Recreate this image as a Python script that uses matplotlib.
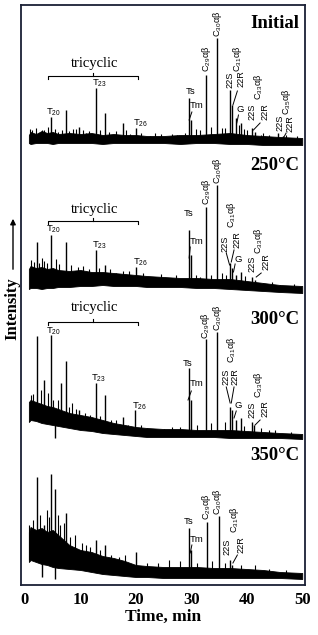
import numpy as np
import matplotlib.pyplot as plt
from matplotlib.patches import FancyArrowPatch

plt.rcParams['font.family'] = ['Liberation Sans', 'DejaVu Sans']
plt.rcParams['mathtext.fontset'] = 'custom'
plt.rcParams['mathtext.rm'] = 'Liberation Sans'
plt.rcParams['mathtext.it'] = 'Liberation Sans:italic'

# noise envelope of the baseline (time grid, min)
t_env = [0.7, 1, 2, 3, 4, 5, 6, 8, 10, 12, 14, 16, 18, 20, 22, 25, 28, 31, 34, 37, 40, 43, 46, 50]

# --- Initial ---
upper_init = [10, 13, 11, 14, 12, 13, 11, 12, 11, 12, 10, 11, 10, 10, 9, 9, 10, 10, 11, 12, 10, 9, 8, 7]
lower_init = [2, 1, 2, 2, 2, 1, 2, 2, 2, 2, 1, 2, 2, 2, 2, 2, 1, 2, 2, 1, 1, 0, 0, 0]
peak_t_init = [4.7, 7.4, 9.8, 12.8, 14.4, 17.6, 20.0, 29.6, 30.0, 32.7, 34.7, 37.0, 37.4, 38.1, 39.0, 41.0, 41.5, 45.7, 46.5]
peak_h_init = [28, 35, 18, 57, 32, 22, 17, 47, 25, 70, 107, 55, 40, 27, 22, 17, 13, 12, 9]
minor_t_init = [1.3, 2.5, 3.5, 6.0, 8.6, 11.0, 15.8, 19.0, 22.5, 25.5, 27.5, 28.8, 31.5, 33.5, 36.0, 38.6, 40.0, 42.5, 44.0, 48.0,
                0.9, 2.0, 3.0, 4.2, 5.5, 6.6, 8.0, 9.2, 10.5, 11.6, 13.5, 15.2, 16.5, 18.3, 21.0, 23.5, 24.5, 26.5,
                30.8, 35.6, 39.5, 43.0, 47.0, 49.0]
minor_h_init = [15, 12, 15, 13, 16, 12, 10, 11, 9, 8, 10, 12, 15, 18, 17, 20, 15, 10, 10, 7,
                16, 17, 15, 18, 16, 15, 14, 16, 15, 14, 15, 13, 14, 15, 12, 12, 11, 11,
                16, 17, 16, 12, 10, 9]

# --- 250 C ---
upper_250 = [24, 27, 25, 26, 24, 25, 23, 22, 23, 21, 21, 20, 19, 18, 17, 16, 15, 15, 14, 14, 12, 10, 8, 7]
lower_250 = [4, 5, 5, 4, 5, 5, 6, 6, 7, 7, 8, 7, 7, 7, 6, 6, 6, 5, 5, 4, 3, 2, 1, 0]
peak_t_250 = [2.1, 4.7, 7.4, 12.8, 14.4, 20.0, 29.6, 29.9, 32.7, 34.7, 37.0, 37.3, 38.0, 39.0, 41.0, 41.4]
peak_h_250 = [51, 58, 51, 43, 28, 26, 63, 38, 86, 108, 30, 25, 18, 21, 16, 13]
minor_t_250 = [1.0, 3.0, 4.0, 5.6, 9.6, 11.5, 16.5, 17.6, 23.0, 26.0, 28.5, 31.5, 33.5, 35.5, 36.3, 43.0, 46.0,
               1.6, 2.6, 3.5, 6.2, 8.3, 10.5, 13.4, 15.4, 18.8, 21.2, 24.5, 27.2, 30.8, 39.6, 44.5, 48.5]
minor_h_250 = [33, 35, 30, 34, 26, 24, 20, 22, 13, 12, 14, 16, 18, 20, 18, 10, 8,
               31, 30, 32, 29, 28, 27, 25, 24, 22, 20, 19, 18, 18, 17, 11, 9]

# --- 300 C ---
upper_300 = [38, 40, 38, 36, 34, 33, 31, 27, 25, 23, 20, 17, 15, 13, 12, 11, 11, 10, 10, 10, 9, 8, 7, 6]
lower_300 = [18, 20, 19, 17, 16, 15, 14, 12, 10, 9, 7, 6, 5, 4, 3, 3, 3, 3, 3, 2, 2, 2, 2, 1]
peak_t_300 = [2.1, 3.4, 4.7, 6.5, 7.4, 9.7, 12.8, 14.4, 17.6, 19.9, 29.5, 29.9, 32.6, 34.7, 37.0, 37.3, 38.0, 38.9, 40.9, 41.3]
peak_h_300 = [104, 60, 105, 57, 79, 30, 57, 45, 23, 30, 72, 40, 101, 108, 33, 30, 20, 22, 18, 15]
minor_t_300 = [1.0, 2.8, 4.1, 6.0, 8.5, 10.8, 11.8, 15.5, 18.5, 22.0, 25.0, 28.0, 31.0, 33.5, 36.0, 42.5, 45.0, 48.0,
               1.5, 5.0, 8.0, 9.2, 13.5, 16.5, 21.0, 26.5, 39.5, 44.0]
minor_h_300 = [45, 50, 47, 40, 37, 27, 25, 20, 15, 12, 11, 13, 15, 17, 18, 12, 10, 8,
               46, 40, 33, 31, 24, 20, 15, 13, 14, 10]
dip_t_300 = [5.4]
dip_h_300 = [2]

# --- 350 C ---
upper_350 = [48, 53, 50, 52, 48, 50, 45, 35, 30, 28, 24, 22, 19, 15, 14, 13, 13, 13, 12, 12, 11, 10, 8, 7]
lower_350 = [18, 20, 18, 16, 15, 13, 12, 11, 10, 8, 6, 5, 4, 3, 3, 2, 2, 2, 2, 2, 2, 2, 2, 1]
peak_t_350 = [2.1, 3.4, 4.7, 5.4, 7.4, 12.8, 14.4, 20.0, 29.6, 29.9, 32.8, 34.9, 37.0, 37.4]
peak_h_350 = [103, 55, 106, 91, 67, 40, 35, 28, 52, 30, 58, 64, 20, 15]
minor_t_350 = [0.8, 1.4, 2.7, 3.9, 4.3, 5.9, 6.4, 7.0, 8.2, 9.0, 10.2, 11.0, 11.8, 13.5, 15.5, 17.0, 18.0,
               22.0, 24.0, 26.0, 28.0, 31.0, 33.8, 36.0, 39.0, 41.5, 44.0, 47.0]
minor_h_350 = [55, 60, 65, 70, 63, 65, 55, 57, 43, 45, 37, 35, 33, 30, 25, 23, 25,
               17, 17, 20, 19, 17, 19, 17, 15, 15, 11, 10]
dip_t_350 = [3.0, 5.5]
dip_h_350 = [3, 1]

names = ['Initial', '250\u00b0C', '300\u00b0C', '350\u00b0C']
offsets = [440, 292, 145, 5]

traces = [
    dict(up=upper_init, lo=lower_init, pt=peak_t_init, ph=peak_h_init, mt=minor_t_init, mh=minor_h_init, dt=[], dh=[]),
    dict(up=upper_250, lo=lower_250, pt=peak_t_250, ph=peak_h_250, mt=minor_t_250, mh=minor_h_250, dt=[], dh=[]),
    dict(up=upper_300, lo=lower_300, pt=peak_t_300, ph=peak_h_300, mt=minor_t_300, mh=minor_h_300, dt=dip_t_300, dh=dip_h_300),
    dict(up=upper_350, lo=lower_350, pt=peak_t_350, ph=peak_h_350, mt=minor_t_350, mh=minor_h_350, dt=dip_t_350, dh=dip_h_350),
]

C29, C30, C31 = 'C$_{29}$\u03b1\u03b2', 'C$_{30}$\u03b1\u03b2', 'C$_{31}$\u03b1\u03b2'
C33, C35 = 'C$_{33}$\u03b1\u03b2', 'C$_{35}$\u03b1\u03b2'

# peak labels: text, time, height, horizontal(h)/vertical(v)
labels = [
    [('T$_{20}$', 5.2, 33, 'h'), ('T$_{23}$', 13.4, 62, 'h'), ('T$_{26}$', 20.8, 22, 'h'),
     ('Ts', 29.8, 53, 'h'), ('Tm', 30.9, 39, 'h'), (C29, 32.7, 73, 'v'), (C30, 34.7, 108, 'v'),
     ('22S', 37.0, 57, 'v'), (C31, 38.3, 73, 'v'), ('22R', 39.0, 58, 'v'), ('G', 38.8, 36, 'h'),
     ('22S', 41.0, 25, 'v'), (C33, 42.2, 45, 'v'), ('22R', 43.3, 25, 'v'),
     ('22S', 46.0, 14, 'v'), (C35, 47.1, 30, 'v'), ('22R', 47.8, 13, 'v')],
    [('T$_{20}$', 5.2, 64, 'h'), ('T$_{23}$', 13.4, 48, 'h'), ('T$_{26}$', 20.8, 31, 'h'),
     ('Ts', 29.6, 79, 'h'), ('Tm', 31.0, 52, 'h'), (C29, 32.7, 88, 'v'), (C30, 34.7, 109, 'v'),
     ('22S', 36.1, 41, 'v'), (C31, 37.2, 65, 'v'), ('22R', 38.3, 45, 'v'), ('G', 38.5, 34, 'h'),
     ('22S', 41.0, 21, 'v'), (C33, 42.2, 39, 'v'), ('22R', 43.4, 23, 'v')],
    [('T$_{20}$', 5.2, 109, 'h'), ('T$_{23}$', 13.2, 62, 'h'), ('T$_{26}$', 20.6, 34, 'h'),
     ('Ts', 29.4, 77, 'h'), ('Tm', 31.0, 56, 'h'), (C29, 32.6, 101, 'v'), (C30, 34.7, 109, 'v'),
     ('22S', 36.3, 55, 'v'), (C31, 37.2, 77, 'v'), ('22R', 37.9, 55, 'v'), ('G', 38.5, 35, 'h'),
     ('22S', 41.0, 22, 'v'), (C33, 42.2, 42, 'v'), ('22R', 43.3, 23, 'v')],
    [('Ts', 29.6, 59, 'h'), ('Tm', 31.0, 41, 'h'), (C29, 32.7, 60, 'v'), (C30, 34.8, 65, 'v'),
     ('22S', 36.5, 25, 'v'), (C31, 37.7, 47, 'v'), ('22R', 39.0, 27, 'v')],
]

leaders = [
    [(30.1, 33, 29.6, 25), (38.3, 54, 37.5, 40), (38.5, 30, 38.2, 22), (42.4, 22, 41.2, 15), (47.1, 12, 46.6, 7)],
    [(29.8, 46, 29.6, 35), (36.3, 40, 36.9, 28), (37.7, 43, 37.2, 31), (37.9, 29, 37.6, 21), (42.6, 20, 41.7, 16)],
    [(30.0, 49, 29.4, 40), (36.3, 53, 37.0, 37), (37.7, 53, 37.2, 37), (38.1, 29, 37.7, 22), (42.4, 20, 41.5, 15)],
    [(30.1, 35, 29.8, 27), (38.3, 25, 37.5, 17)],
]

tricyclic_y = [82, 83, 132]
bracket_y = [69, 72, 118]
name_y = [122, 127, 121, 125]

fig = plt.figure(figsize=(3.18, 6.35), dpi=100)
ax = fig.add_axes([21 / 318, 50 / 635, 284 / 318, 580 / 635])

for i, tr in enumerate(traces):
    off = offsets[i]
    ax.fill_between(t_env, [off + v for v in tr['lo']], [off + v for v in tr['up']],
                    color='black', lw=0.6)
    # stems start inside the noise band
    mbase = off + np.interp(tr['mt'], t_env, tr['lo']) + 1
    ax.vlines(tr['mt'], mbase, [off + v for v in tr['mh']], color='black', lw=0.8)
    pbase = off + np.interp(tr['pt'], t_env, tr['lo']) + 1
    ax.vlines(tr['pt'], pbase, [off + v for v in tr['ph']], color='black', lw=1.0)
    if tr['dt']:
        dtop = off + np.interp(tr['dt'], t_env, tr['lo']) + 2
        ax.vlines(tr['dt'], [off + v for v in tr['dh']], dtop, color='black', lw=1.0)

    for s, t, y, kind in labels[i]:
        if kind == 'h':
            ax.text(t, off + y, s, ha='center', va='center', fontsize=6.8)
        else:
            ax.text(t, off + y, s, ha='center', va='bottom', rotation=90, fontsize=6.6)
    for x0, y0, x1, y1 in leaders[i]:
        ax.plot([x0, x1], [off + y0, off + y1], color='black', lw=0.7)

    ax.text(49.4, off + name_y[i], names[i], ha='right', va='center', fontsize=13.5,
            fontweight='bold', family='Liberation Serif')

    if i < 3:
        by = off + bracket_y[i]
        ax.plot([4.15, 4.15, 20.4, 20.4], [by - 3, by, by, by - 3], color='black', lw=0.8)
        ax.plot([12.3, 12.3], [by, by + 3], color='black', lw=0.8)
        ax.text(12.6, off + tricyclic_y[i], 'tricyclic', ha='center', va='center',
                fontsize=10.5, family='Liberation Serif')

ax.set_xlim(-0.72, 50.5)
ax.set_ylim(0, 580)
ax.set_yticks([])
ax.set_xticks([0, 10, 20, 30, 40, 50])
ax.tick_params(axis='x', length=0, pad=5, labelsize=12)
for lab in ax.get_xticklabels():
    lab.set_fontfamily('Liberation Serif')
    lab.set_fontweight('bold')
ax.set_xlabel('Time, min', fontsize=12.5, fontweight='bold', family='Liberation Serif', labelpad=1)
for sp in ax.spines.values():
    sp.set_color('#1a2035')
    sp.set_linewidth(1.3)

fig.text(12 / 318, 1 - 309 / 635, 'Intensity', rotation=90, ha='center', va='center',
         fontsize=12, fontweight='bold', family='Liberation Serif')
fig.add_artist(FancyArrowPatch(
    (13 / 318, 1 - 272 / 635), (13 / 318, 1 - 216 / 635), transform=fig.transFigure,
    arrowstyle='-|>', mutation_scale=8, lw=1.0, color='black'))

fig.savefig('out.png', dpi=100)
